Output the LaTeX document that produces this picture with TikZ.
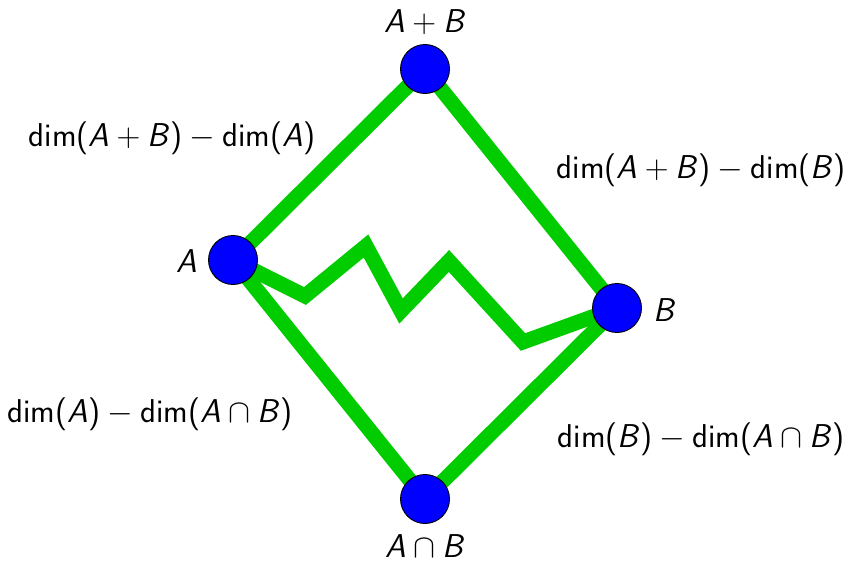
\RequirePackage{fix-cm}
\documentclass[tikz,border=0pt]{standalone}
\usepackage{fontspec}
\setsansfont{Latin Modern Sans}
\usetikzlibrary{positioning}
\definecolor{edgegreen}{RGB}{0,204,0}
\newcommand\vA{\textit{A}}
\newcommand\vB{\textit{B}}
\newcommand\bplus{${}+{}$}
\newcommand\bminus{${}-{}$}
\newcommand\bcap{${}\cap{}$}
\begin{document}
\begin{tikzpicture}[x=1pt,y=-1pt,
  vert/.style={circle,draw=black,line width=0.9pt,fill=blue,minimum size=49pt,inner sep=0pt},
  link/.style={edgegreen,line width=15pt},
  lbl/.style={font=\fontsize{33}{38}\selectfont\sffamily,inner sep=0pt,anchor=base}]
\useasboundingbox (0,0) rectangle (847,562);
\coordinate (top) at (425,69);
\coordinate (left) at (233,260);
\coordinate (right) at (617,308);
\coordinate (bot) at (425,499);
\coordinate (z1) at (305,296);
\coordinate (z2) at (366,246);
\coordinate (z3) at (401,311);
\coordinate (z4) at (449,261);
\coordinate (z5) at (523,342);
\draw[link] (left) -- (top) -- (right) -- (bot) -- cycle;
\draw[link] (left) -- (z1) -- (z2) -- (z3) -- (z4) -- (z5) -- (right);
\node[vert] (nAB) at (top) {};
\node[vert] (nA) at (left) {};
\node[vert] (nB) at (right) {};
\node[vert] (nAcB) at (bot) {};
\node[lbl] (tAB) at (425,32) {\vA\bplus\vB};
\node[lbl] (tA) at (187,272) {\vA};
\node[lbl] (tB) at (665,321) {\vB};
\node[lbl] (tAcB) at (425,557) {\vA\bcap\vB};
\node[lbl] (l1) at (172,146) {dim(\vA\bplus\vB)\bminus dim(\vA)};
\node[lbl] (l2) at (701,178) {dim(\vA\bplus\vB)\bminus dim(\vB)};
\node[lbl] (l3) at (150,422) {dim(\vA)\bminus dim(\vA\bcap\vB)};
\node[lbl] (l4) at (701,447) {dim(\vB)\bminus dim(\vA\bcap\vB)};
\end{tikzpicture}
\end{document}
